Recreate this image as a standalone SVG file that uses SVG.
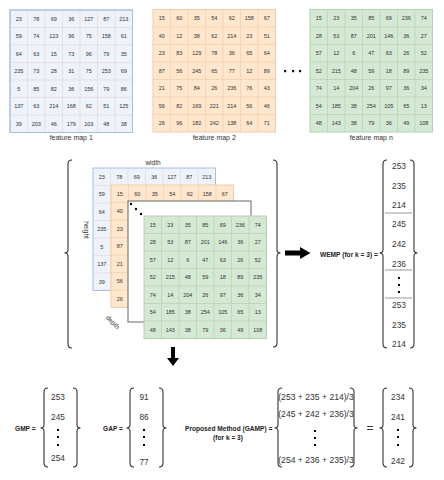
<svg xmlns="http://www.w3.org/2000/svg" width="444" height="480" viewBox="0 0 444 480">
<defs>
<style>
.t{font-family:"Liberation Sans",Arial,sans-serif;font-size:5.5px;fill:#333;text-anchor:middle;dominant-baseline:central}
.lbl{font-family:"Liberation Sans",Arial,sans-serif;font-size:7px;fill:#333333;text-anchor:middle;dominant-baseline:central}
.v{font-family:"Liberation Sans",Arial,sans-serif;font-size:8.3px;fill:#333;text-anchor:middle;dominant-baseline:central}
.e{font-family:"Liberation Sans",Arial,sans-serif;font-size:8.6px;fill:#333;text-anchor:middle;dominant-baseline:central}
.b{font-family:"Liberation Sans",Arial,sans-serif;font-size:6.6px;font-weight:bold;fill:#222;dominant-baseline:central}
.blue{fill:#eef2fb;stroke:#a8bde0;stroke-width:1}
.bluel{fill:none;stroke:#e6d6d6;stroke-width:0.7}
.or{fill:#ffe6cc;stroke:#efcdab;stroke-width:1}
.orl{fill:none;stroke:#efcdab;stroke-width:0.7}
.gr{fill:#d5e8d4;stroke:#b3d2b0;stroke-width:1}
.grl{fill:none;stroke:#b3d2b0;stroke-width:0.7}
.br{fill:none;stroke:#333;stroke-width:1.1}
.sep{stroke:#999;stroke-width:1}
</style>
<path id="gl" d="M17.5,0V122.5M35,0V122.5M52.5,0V122.5M70,0V122.5M87.5,0V122.5M105,0V122.5M0,17.5H122.5M0,35H122.5M0,52.5H122.5M0,70H122.5M0,87.5H122.5M0,105H122.5"/>
</defs>
<rect width="444" height="480" fill="#fff"/>

<g id="fmap1" transform="translate(10,10)">
<rect class="blue" width="122.5" height="122.5"/>
<use href="#gl" class="bluel"/>
<rect width="122.5" height="122.5" fill="none" stroke="#a8bde0" stroke-width="1"/>
<g class="t">
<text x="8.75" y="8.75">23</text><text x="26.25" y="8.75">78</text><text x="43.75" y="8.75">69</text><text x="61.25" y="8.75">36</text><text x="78.75" y="8.75">127</text><text x="96.25" y="8.75">87</text><text x="113.75" y="8.75">213</text>
<text x="8.75" y="26.25">59</text><text x="26.25" y="26.25">74</text><text x="43.75" y="26.25">123</text><text x="61.25" y="26.25">96</text><text x="78.75" y="26.25">75</text><text x="96.25" y="26.25">158</text><text x="113.75" y="26.25">61</text>
<text x="8.75" y="43.75">64</text><text x="26.25" y="43.75">63</text><text x="43.75" y="43.75">15</text><text x="61.25" y="43.75">73</text><text x="78.75" y="43.75">96</text><text x="96.25" y="43.75">79</text><text x="113.75" y="43.75">35</text>
<text x="8.75" y="61.25">235</text><text x="26.25" y="61.25">73</text><text x="43.75" y="61.25">28</text><text x="61.25" y="61.25">31</text><text x="78.75" y="61.25">75</text><text x="96.25" y="61.25">253</text><text x="113.75" y="61.25">69</text>
<text x="8.75" y="78.75">5</text><text x="26.25" y="78.75">85</text><text x="43.75" y="78.75">82</text><text x="61.25" y="78.75">36</text><text x="78.75" y="78.75">156</text><text x="96.25" y="78.75">79</text><text x="113.75" y="78.75">86</text>
<text x="8.75" y="96.25">137</text><text x="26.25" y="96.25">63</text><text x="43.75" y="96.25">214</text><text x="61.25" y="96.25">168</text><text x="78.75" y="96.25">62</text><text x="96.25" y="96.25">51</text><text x="113.75" y="96.25">125</text>
<text x="8.75" y="113.75">39</text><text x="26.25" y="113.75">203</text><text x="43.75" y="113.75">46</text><text x="61.25" y="113.75">179</text><text x="78.75" y="113.75">103</text><text x="96.25" y="113.75">48</text><text x="113.75" y="113.75">38</text>
</g>
<text class="lbl" x="61.25" y="127.5" fill="#333">feature map 1</text>
</g>

<g id="fmap2" transform="translate(153,9.5)">
<rect class="or" width="122.5" height="122.5"/>
<use href="#gl" class="orl"/>
<g class="t">
<text x="8.75" y="8.75">15</text><text x="26.25" y="8.75">60</text><text x="43.75" y="8.75">35</text><text x="61.25" y="8.75">54</text><text x="78.75" y="8.75">62</text><text x="96.25" y="8.75">158</text><text x="113.75" y="8.75">67</text>
<text x="8.75" y="26.25">40</text><text x="26.25" y="26.25">12</text><text x="43.75" y="26.25">38</text><text x="61.25" y="26.25">62</text><text x="78.75" y="26.25">214</text><text x="96.25" y="26.25">23</text><text x="113.75" y="26.25">51</text>
<text x="8.75" y="43.75">23</text><text x="26.25" y="43.75">83</text><text x="43.75" y="43.75">129</text><text x="61.25" y="43.75">78</text><text x="78.75" y="43.75">36</text><text x="96.25" y="43.75">65</text><text x="113.75" y="43.75">64</text>
<text x="8.75" y="61.25">87</text><text x="26.25" y="61.25">56</text><text x="43.75" y="61.25">245</text><text x="61.25" y="61.25">65</text><text x="78.75" y="61.25">77</text><text x="96.25" y="61.25">12</text><text x="113.75" y="61.25">89</text>
<text x="8.75" y="78.75">21</text><text x="26.25" y="78.75">75</text><text x="43.75" y="78.75">84</text><text x="61.25" y="78.75">26</text><text x="78.75" y="78.75">236</text><text x="96.25" y="78.75">76</text><text x="113.75" y="78.75">43</text>
<text x="8.75" y="96.25">56</text><text x="26.25" y="96.25">82</text><text x="43.75" y="96.25">169</text><text x="61.25" y="96.25">221</text><text x="78.75" y="96.25">214</text><text x="96.25" y="96.25">56</text><text x="113.75" y="96.25">46</text>
<text x="8.75" y="113.75">26</text><text x="26.25" y="113.75">96</text><text x="43.75" y="113.75">182</text><text x="61.25" y="113.75">242</text><text x="78.75" y="113.75">138</text><text x="96.25" y="113.75">64</text><text x="113.75" y="113.75">71</text>
</g>
<text class="lbl" x="61.25" y="128" fill="#333">feature map 2</text>
</g>

<g id="ellipsis-maps" fill="#111">
<rect x="284" y="70" width="2.2" height="2.2"/>
<rect x="292" y="70" width="2.2" height="2.2"/>
<rect x="299" y="70" width="2.2" height="2.2"/>
</g>

<g id="fmapn" transform="translate(310,9.5)">
<rect class="gr" width="122.5" height="122.5"/>
<use href="#gl" class="grl"/>
<g class="t">
<text x="8.75" y="8.75">15</text><text x="26.25" y="8.75">23</text><text x="43.75" y="8.75">35</text><text x="61.25" y="8.75">85</text><text x="78.75" y="8.75">69</text><text x="96.25" y="8.75">236</text><text x="113.75" y="8.75">74</text>
<text x="8.75" y="26.25">28</text><text x="26.25" y="26.25">53</text><text x="43.75" y="26.25">87</text><text x="61.25" y="26.25">201</text><text x="78.75" y="26.25">146</text><text x="96.25" y="26.25">36</text><text x="113.75" y="26.25">27</text>
<text x="8.75" y="43.75">57</text><text x="26.25" y="43.75">12</text><text x="43.75" y="43.75">6</text><text x="61.25" y="43.75">47</text><text x="78.75" y="43.75">63</text><text x="96.25" y="43.75">26</text><text x="113.75" y="43.75">52</text>
<text x="8.75" y="61.25">52</text><text x="26.25" y="61.25">215</text><text x="43.75" y="61.25">48</text><text x="61.25" y="61.25">59</text><text x="78.75" y="61.25">18</text><text x="96.25" y="61.25">89</text><text x="113.75" y="61.25">235</text>
<text x="8.75" y="78.75">74</text><text x="26.25" y="78.75">14</text><text x="43.75" y="78.75">204</text><text x="61.25" y="78.75">26</text><text x="78.75" y="78.75">97</text><text x="96.25" y="78.75">36</text><text x="113.75" y="78.75">34</text>
<text x="8.75" y="96.25">54</text><text x="26.25" y="96.25">185</text><text x="43.75" y="96.25">38</text><text x="61.25" y="96.25">254</text><text x="78.75" y="96.25">105</text><text x="96.25" y="96.25">65</text><text x="113.75" y="96.25">13</text>
<text x="8.75" y="113.75">48</text><text x="26.25" y="113.75">143</text><text x="43.75" y="113.75">38</text><text x="61.25" y="113.75">79</text><text x="78.75" y="113.75">36</text><text x="96.25" y="113.75">49</text><text x="113.75" y="113.75">108</text>
</g>
<text class="lbl" x="61.25" y="128" fill="#333">feature map n</text>
</g>

<g id="stack">
<g id="stack-blue" transform="translate(93,168)">
<rect class="blue" width="122.5" height="122.5"/>
<use href="#gl" class="bluel"/>
<g class="t">
<text x="8.75" y="8.75">23</text><text x="26.25" y="8.75">78</text><text x="43.75" y="8.75">69</text><text x="61.25" y="8.75">36</text><text x="78.75" y="8.75">127</text><text x="96.25" y="8.75">87</text><text x="113.75" y="8.75">213</text>
<text x="8.75" y="26.25">59</text><text x="8.75" y="43.75">64</text><text x="8.75" y="61.25">235</text><text x="8.75" y="78.75">5</text><text x="8.75" y="96.25">137</text><text x="8.75" y="113.75">39</text>
</g>
</g>
<g id="stack-orange" transform="translate(111,185)">
<rect class="or" width="122.5" height="122.5"/>
<use href="#gl" class="orl"/>
<g class="t">
<text x="8.75" y="8.75">15</text><text x="26.25" y="8.75">60</text><text x="43.75" y="8.75">35</text><text x="61.25" y="8.75">54</text><text x="78.75" y="8.75">62</text><text x="96.25" y="8.75">158</text><text x="113.75" y="8.75">67</text>
<text x="8.75" y="26.25">40</text><text x="8.75" y="43.75">23</text><text x="8.75" y="61.25">87</text><text x="8.75" y="78.75">21</text><text x="8.75" y="96.25">56</text><text x="8.75" y="113.75">26</text>
</g>
</g>
<g id="stack-panel">
<rect x="128" y="201" width="123" height="121" fill="#fff" stroke="#666" stroke-width="1"/>
<circle cx="131" cy="204" r="1.2" fill="#000"/>
<circle cx="136" cy="209" r="1.2" fill="#000"/>
<circle cx="141" cy="214" r="1.2" fill="#000"/>
</g>
<g id="stack-green" transform="translate(144,216)">
<rect class="gr" width="122.5" height="122.5"/>
<use href="#gl" class="grl"/>
<g class="t">
<text x="8.75" y="8.75">15</text><text x="26.25" y="8.75">23</text><text x="43.75" y="8.75">35</text><text x="61.25" y="8.75">85</text><text x="78.75" y="8.75">69</text><text x="96.25" y="8.75">236</text><text x="113.75" y="8.75">74</text>
<text x="8.75" y="26.25">28</text><text x="26.25" y="26.25">53</text><text x="43.75" y="26.25">87</text><text x="61.25" y="26.25">201</text><text x="78.75" y="26.25">146</text><text x="96.25" y="26.25">36</text><text x="113.75" y="26.25">27</text>
<text x="8.75" y="43.75">57</text><text x="26.25" y="43.75">12</text><text x="43.75" y="43.75">6</text><text x="61.25" y="43.75">47</text><text x="78.75" y="43.75">63</text><text x="96.25" y="43.75">26</text><text x="113.75" y="43.75">52</text>
<text x="8.75" y="61.25">52</text><text x="26.25" y="61.25">215</text><text x="43.75" y="61.25">48</text><text x="61.25" y="61.25">59</text><text x="78.75" y="61.25">18</text><text x="96.25" y="61.25">89</text><text x="113.75" y="61.25">235</text>
<text x="8.75" y="78.75">74</text><text x="26.25" y="78.75">14</text><text x="43.75" y="78.75">204</text><text x="61.25" y="78.75">26</text><text x="78.75" y="78.75">97</text><text x="96.25" y="78.75">36</text><text x="113.75" y="78.75">34</text>
<text x="8.75" y="96.25">54</text><text x="26.25" y="96.25">185</text><text x="43.75" y="96.25">38</text><text x="61.25" y="96.25">254</text><text x="78.75" y="96.25">105</text><text x="96.25" y="96.25">65</text><text x="113.75" y="96.25">13</text>
<text x="8.75" y="113.75">48</text><text x="26.25" y="113.75">143</text><text x="43.75" y="113.75">38</text><text x="61.25" y="113.75">79</text><text x="78.75" y="113.75">36</text><text x="96.25" y="113.75">49</text><text x="113.75" y="113.75">108</text>
</g>
</g>
<text class="lbl" x="153" y="162" fill="#333" style="font-size:6.5px">width</text>
<text class="lbl" transform="translate(86,230) rotate(90)" fill="#333" style="font-size:6.5px">height</text>
<text class="lbl" transform="translate(113,322) rotate(45)" fill="#333" style="font-size:6.5px">depth</text>
</g>

<g id="brackets">
<path class="br" d="M72,160 Q68,160 68,164 L68,250 Q68,253 64.5,253 Q68,253 68,256 L68,344 Q68,348 72,348"/>
<path class="br" d="M273,160 Q277,160 277,164 L277,250 Q277,253 280.5,253 Q277,253 277,256 L277,343 Q277,347 273,347"/>
<path class="br" d="M387,160 Q383,160 383,164 L383,250 Q383,253 379.5,253 Q383,253 383,256 L383,344 Q383,348 387,348"/>
<path class="br" d="M410,160 Q414,160 414,164 L414,250 Q414,253 417.5,253 Q414,253 414,256 L414,344 Q414,348 410,348"/>
<path class="br" d="M48,388 Q44,388 44,392 L44,425 Q44,428 40.5,428 Q44,428 44,431 L44,463 Q44,467 48,467"/>
<path class="br" d="M73,388 Q77,388 77,392 L77,425 Q77,428 80.5,428 Q77,428 77,431 L77,463 Q77,467 73,467"/>
<path class="br" d="M134,388 Q130,388 130,392 L130,425 Q130,428 126.5,428 Q130,428 130,431 L130,463 Q130,467 134,467"/>
<path class="br" d="M159,388 Q163,388 163,392 L163,425 Q163,428 166.5,428 Q163,428 163,431 L163,463 Q163,467 159,467"/>
<path class="br" d="M282,388 Q278,388 278,392 L278,425 Q278,428 274.5,428 Q278,428 278,431 L278,463 Q278,467 282,467"/>
<path class="br" d="M350,388 Q354,388 354,392 L354,425 Q354,428 357.5,428 Q354,428 354,431 L354,463 Q354,467 350,467"/>
<path class="br" d="M387,388 Q383,388 383,392 L383,425 Q383,428 379.5,428 Q383,428 383,431 L383,463 Q383,467 387,467"/>
<path class="br" d="M409,388 Q413,388 413,392 L413,425 Q413,428 416.5,428 Q413,428 413,431 L413,463 Q413,467 409,467"/>
</g>

<g id="connectors" fill="#000">
<path d="M285,250.5 H300 V247 L310.5,253 L300,259 V255.5 H285 Z"/>
<path d="M171,347 H175 V358 H179 L173,366 L167,358 H171 Z"/>
</g>

<g id="wemp">
<text class="b" x="320" y="254">WEMP (for k = 3) =</text>
<g class="v">
<text x="399" y="166">253</text><text x="399" y="186">235</text><text x="399" y="205">214</text>
<text x="399" y="224">245</text><text x="399" y="244">242</text><text x="399" y="264">236</text>
<text x="399" y="305">253</text><text x="399" y="325">235</text><text x="399" y="344">214</text>
</g>
<line class="sep" x1="385" y1="213" x2="412" y2="213"/>
<line class="sep" x1="385" y1="270" x2="412" y2="270"/>
<line class="sep" x1="385" y1="298" x2="412" y2="298"/>
<g fill="#000"><rect x="398" y="277" width="2" height="2"/><rect x="398" y="284" width="2" height="2"/><rect x="398" y="291" width="2" height="2"/></g>
</g>

<g id="gmp">
<text class="b" x="15" y="428">GMP =</text>
<g class="v"><text x="58" y="397">253</text><text x="58" y="417">245</text><text x="58" y="458">254</text></g>
<g fill="#000"><rect x="57" y="429" width="2" height="2"/><rect x="57" y="436" width="2" height="2"/><rect x="57" y="444" width="2" height="2"/></g>
</g>

<g id="gap">
<text class="b" x="103" y="428">GAP =</text>
<g class="v"><text x="144" y="397">91</text><text x="144" y="417">86</text><text x="144" y="462">77</text></g>
<g fill="#000"><rect x="143" y="429" width="2" height="2"/><rect x="143" y="436" width="2" height="2"/><rect x="143" y="444" width="2" height="2"/></g>
</g>

<g id="gamp">
<text class="b" x="185" y="428">Proposed Method (GAMP) =</text>
<text class="b" x="228" y="437" style="text-anchor:middle">(for k = 3)</text>
<g class="e"><text x="316" y="397">(253 + 235 + 214)/3</text><text x="316" y="414">(245 + 242 + 236)/3</text><text x="316" y="460">(254 + 236 + 235)/3</text></g>
<g fill="#000"><rect x="314" y="430" width="2" height="2"/><rect x="314" y="437" width="2" height="2"/><rect x="314" y="444" width="2" height="2"/></g>
</g>

<text x="370" y="428" style="font-family:'Liberation Sans',Arial,sans-serif;font-size:12px;fill:#333;text-anchor:middle;dominant-baseline:central">=</text>

<g id="result">
<g class="v"><text x="398" y="397">234</text><text x="398" y="417">241</text><text x="398" y="461">242</text></g>
<g fill="#000"><rect x="397" y="429" width="2" height="2"/><rect x="397" y="436" width="2" height="2"/><rect x="397" y="444" width="2" height="2"/></g>
</g>
</svg>
